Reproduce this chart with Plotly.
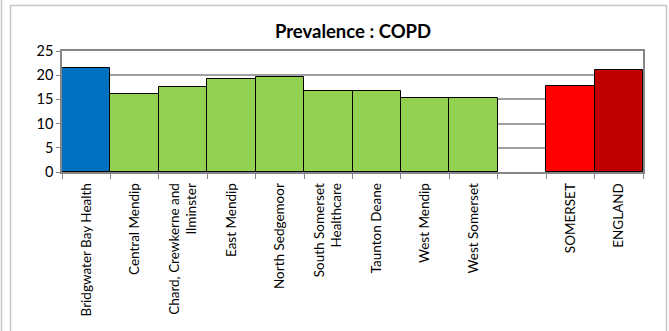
import plotly.graph_objects as go

categories = ["Bridgwater Bay Health", "Central Mendip", "Chard, Crewkerne and<br>Ilminster",
              "East Mendip", "North Sedgemoor", "South Somerset<br>Healthcare", "Taunton Deane",
              "West Mendip", "West Somerset", " ", "SOMERSET", "ENGLAND"]
values = [21.4, 16.2, 17.5, 19.2, 19.6, 16.8, 16.8, 15.2, 15.2, None, 17.7, 21.0]
colors = ["#0070C0", "#92D050", "#92D050", "#92D050", "#92D050", "#92D050", "#92D050",
          "#92D050", "#92D050", "#FFFFFF", "#FF0000", "#C00000"]
y_ticks = [0, 5, 10, 15, 20, 25]
title_text = "Prevalence : COPD"

W, H = 669, 331
ml, mr, mt, mb = 62, 26, 51, 159
pw, ph = W - ml - mr, H - mt - mb

fig = go.Figure(go.Bar(
    x=categories, y=values,
    marker=dict(color=colors, line=dict(color="#000000", width=1)),
    width=1.0,
))

def px_to_paper_x(px):
    return (px - ml) / pw

def px_to_paper_y(py):
    return (H - mb - py) / ph

fig.update_layout(
    width=W, height=H,
    margin=dict(l=ml, r=mr, t=mt, b=mb),
    paper_bgcolor="white", plot_bgcolor="white",
    font=dict(family="Lato, Liberation Sans, sans-serif", color="#000000"),
    title=dict(text="<b>" + title_text + "</b>", x=px_to_paper_x(353), xref="paper", xanchor="center",
               y=1 - 32 / H, yref="container", yanchor="middle",
               font=dict(size=18.5, family="Lato, Liberation Sans, sans-serif")),
    bargap=0,
    showlegend=False,
    shapes=[
        dict(type="rect", xref="paper", yref="paper",
             x0=px_to_paper_x(10.5), x1=px_to_paper_x(666.5),
             y0=px_to_paper_y(345), y1=px_to_paper_y(5.5),
             line=dict(color="#C8C8C8", width=1.5), fillcolor="rgba(0,0,0,0)", layer="below"),
        dict(type="line", xref="paper", yref="paper",
             x0=px_to_paper_x(1.5), x1=px_to_paper_x(1.5),
             y0=px_to_paper_y(0), y1=px_to_paper_y(345),
             line=dict(color="#C8C8C8", width=1.5)),
    ],
)
fig.update_xaxes(
    type="category", tickangle=-90, tickfont=dict(size=13.5),
    showline=True, linecolor="#868686", linewidth=1.5, mirror=True,
    ticks="outside", ticklen=5, tickcolor="#868686", tickson="boundaries",
    ticklabelstandoff=4,
    showgrid=False, range=[-0.5, 11.5],
)
fig.update_yaxes(
    range=[0, 25], tickvals=y_ticks, tickfont=dict(size=14.5),
    showline=True, linecolor="#868686", linewidth=1.5, mirror=True,
    ticks="outside", ticklen=4, tickcolor="#868686",
    showgrid=True, gridcolor="#A0A0A0", gridwidth=1.5, zeroline=False,
)
fig.write_html("out.html", config={"displayModeBar": False},
               post_script="document.body.style.margin='0';")
